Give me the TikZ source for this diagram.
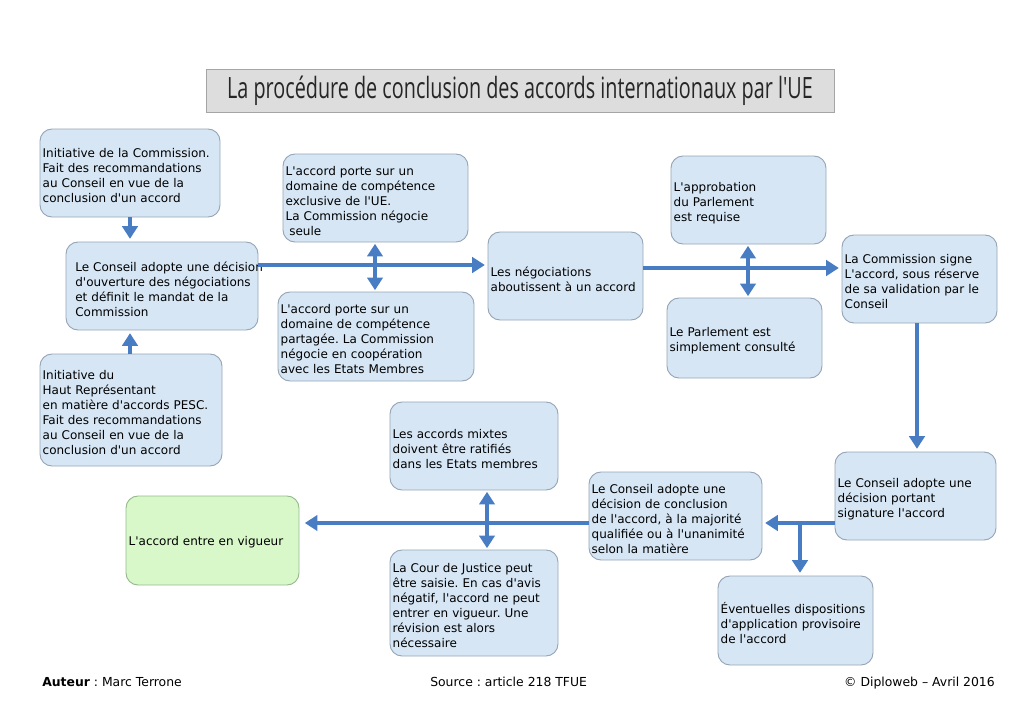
\documentclass[tikz,border=0pt]{standalone}
\usepackage{fontspec}
\setmainfont{DejaVu Sans}[Ligatures=TeXOff]
\newfontfamily\titlefont[FakeStretch=0.675]{Open Sans}
\usetikzlibrary{arrows.meta}
\definecolor{boxfill}{RGB}{214,230,245}
\definecolor{boxline}{RGB}{150,165,182}
\definecolor{greenfill}{RGB}{216,248,202}
\definecolor{greenline}{RGB}{150,185,140}
\definecolor{arrowblue}{RGB}{72,125,195}
\definecolor{titlefill}{RGB}{221,221,221}
\definecolor{titleline}{RGB}{165,165,165}
\newcommand\boxnode[7][box]{%
  \pgfmathsetmacro\bxw{(#5-#3)*0.75-4}%
  \pgfmathsetmacro\bxh{(#6-#4)*0.75}%
  \node[#1, text width=\bxw pt, minimum height=\bxh pt] (#2) at ({(#3+#5)/2},{(#4+#6)/2}) {#7};%
}
\newcommand\boxtail{\endgraf\vspace*{-4.5pt}}
\begin{document}
\frenchspacing
\hyphenpenalty=10000\relax
\exhyphenpenalty=10000\relax
\hbadness=10000\relax
\hfuzz=30pt\relax
\begin{tikzpicture}[x=0.75pt,y=-0.75pt,
  box/.style={draw=boxline, fill=boxfill, rounded corners=9pt, line width=0.7pt,
    inner xsep=2pt, inner ysep=0pt, align=left, anchor=center,
    font=\fontsize{9}{11.25}\selectfont,
    execute at end node={\boxtail}},
  greenbox/.style={box, draw=greenline, fill=greenfill},
  arr/.style={draw=arrowblue, line width=3pt, shorten >=2pt,
    -{Triangle[width=11.5pt,length=9.5pt]}},
  dbl/.style={draw=arrowblue, line width=3pt, shorten >=1pt, shorten <=1pt,
    {Triangle[width=11.5pt,length=9.5pt]}-{Triangle[width=11.5pt,length=9.5pt]}},
  foot/.style={font=\fontsize{9.3}{11}\selectfont, inner sep=0pt}
]
\useasboundingbox (0,0) rectangle (1024,724);

% title
\node[draw=titleline, fill=titlefill, line width=0.7pt, minimum width=471pt, minimum height=32.25pt,
  font=\titlefont\fontsize{22}{24}\selectfont, text=black!85] (title) at (520,90.5)
  {La procédure de conclusion des accords internationaux par l'UE};

% boxes
\boxnode{A}{40}{129}{220}{217}{Initiative de la Commission.\\Fait des recommandations\\au Conseil en vue de la\\conclusion d'un accord}
\boxnode{B}{66}{242}{258}{330}{\hspace*{5pt}\rlap{Le Conseil adopte une décision}\\\hspace*{5pt}d'ouverture des négociations\\\hspace*{5pt}et définit le mandat de la\\\hspace*{5pt}Commission}
\boxnode{C}{40}{354}{222}{466}{Initiative du\\Haut Représentant\\en matière d'accords PESC.\\Fait des recommandations\\au Conseil en vue de la\\conclusion d'un accord}
\boxnode{D}{283}{154}{468}{242}{L'accord porte sur un\\domaine de compétence\\exclusive de l'UE.\\La Commission négocie\\\hspace*{0.3em}seule}
\boxnode{E}{278}{292}{474}{381}{L'accord porte sur un\\domaine de compétence\\partagée. La Commission\\négocie en coopération\\avec les Etats Membres}
\boxnode{F}{488}{232}{643}{320}{Les négociations\\aboutissent à un accord}
\boxnode{G}{671}{156}{826}{244}{L'approbation\\du Parlement\\est requise}
\boxnode{H}{667}{298}{822}{378}{Le Parlement est\\simplement consulté}
\boxnode{I}{842}{235}{997}{323}{La Commission signe\\L'accord, sous réserve\\de sa validation par le\\Conseil}
\boxnode{J}{835}{452}{996}{540}{Le Conseil adopte une\\décision portant\\signature l'accord}
\boxnode{K}{589}{472}{762}{560}{Le Conseil adopte une\\décision de conclusion\\de l'accord, à la majorité\\qualifiée ou à l'unanimité\\selon la matière}
\boxnode{L}{718}{576}{873}{665}{Éventuelles dispositions\\d'application provisoire\\de l'accord}
\boxnode{M}{390}{402}{558}{490}{Les accords mixtes\\doivent être ratifiés\\dans les Etats membres}
\boxnode{N}{390}{550}{558}{656}{La Cour de Justice peut\\être saisie. En cas d'avis\\négatif, l'accord ne peut\\entrer en vigueur. Une\\révision est alors\\nécessaire}
\boxnode[greenbox]{O}{126}{496}{299}{585}{L'accord entre en vigueur}

% helper coordinates
\coordinate (rowA) at (0,265);
\coordinate (rowB) at (0,268);
\coordinate (rowC) at (0,523);
\coordinate (colDE) at (375,0);
\coordinate (colGH) at (748,0);
\coordinate (colMN) at (487,0);
\coordinate (colIJ) at (917,0);
\coordinate (colA) at (130,0);
\coordinate (br) at (800,523);

% connectors
\draw[arr] (A.south -| colA) -- (B.north -| colA);
\draw[arr] (C.north -| colA) -- (B.south -| colA);
\draw[arr] (B.east |- rowA) -- (F.west |- rowA);
\draw[dbl] (D.south -| colDE) -- (E.north -| colDE);
\draw[arr] (F.east |- rowB) -- (I.west |- rowB);
\draw[dbl] (G.south -| colGH) -- (H.north -| colGH);
\draw[arr] (I.south -| colIJ) -- (J.north -| colIJ);
\draw[arr] (J.west |- rowC) -- (K.east |- rowC);
\draw[arr] (br) -- (L.north -| br);
\draw[arr, shorten >=4pt] (K.west |- rowC) -- (O.east |- rowC);
\draw[dbl] (M.south -| colMN) -- (N.north -| colMN);

% footer
\node[foot, anchor=base west] (auteur) at (42,686) {\textbf{Auteur} : Marc Terrone};
\node[foot, anchor=base west] (source) at (430,686) {Source : article 218 TFUE};
\node[foot, anchor=base east] (credit) at (995,686) {© Diploweb – Avril 2016};
\end{tikzpicture}
\end{document}
